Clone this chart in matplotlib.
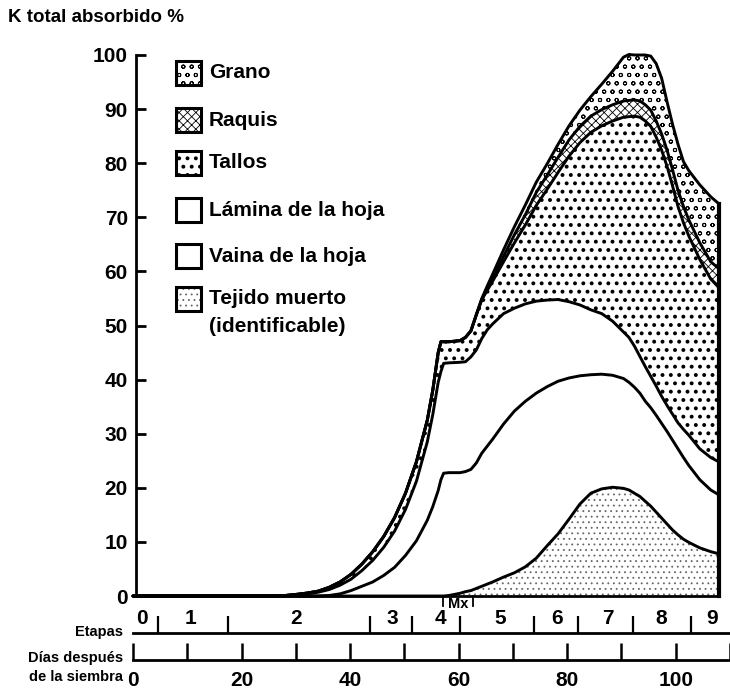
import numpy as np
import matplotlib
matplotlib.use("Agg")
import matplotlib.pyplot as plt
from matplotlib.patches import Rectangle

plt.rcParams['font.family'] = ['Liberation Sans', 'DejaVu Sans']
plt.rcParams['font.weight'] = 'bold'

# ---------------- data (K absorbed, % of total, per plant part) ----------------
dias = [0, 26, 28, 30, 32, 34, 36, 38, 40, 42, 44, 46, 48, 50, 52, 54, 55, 56, 56.5, 57,
        58, 60, 61, 62, 63, 64, 65, 66, 68, 70, 72, 74, 76, 78, 80, 82, 84, 86, 88, 90,
        91, 92, 93, 94, 95, 96, 97, 98, 99, 100, 101, 102, 104, 106, 107.5]

tejido_muerto = [0] * 20 + [0.1, 0.5, 0.8, 1.0, 1.4, 1.8, 2.2, 2.6, 3.5, 4.3, 5.4, 7.0, 9.3, 11.5,
                            14.2, 17.0, 19.0, 19.8, 20.1, 19.9, 19.6, 19.0, 18.4, 17.5, 16.6, 15.5,
                            14.4, 13.3, 12.2, 11.3, 10.5, 9.9, 8.9, 8.2, 7.8]
vaina = [0, 0, 0, 0, 0, 0, 0.1, 0.4, 1.0, 1.8, 2.6, 3.8, 5.3, 7.5, 10.2, 14.0, 16.5, 19.5, 21.5, 22.7,
         22.7, 22.3, 22.2, 22.4, 23.2, 24.6, 25.5, 26.4, 28.3, 29.9, 30.6, 30.5, 29.4, 28.2, 26.1,
         23.7, 21.9, 21.2, 20.7, 20.3, 19.9, 19.6, 19.1, 18.5, 18.2, 17.9, 17.5, 17.1, 16.6, 15.9,
         15.1, 14.2, 12.6, 11.4, 10.9]
lamina = [0, 0, 0.05, 0.2, 0.4, 0.7, 1.1, 1.6, 2.1, 2.9, 4.0, 5.2, 6.7, 8.5, 11.0, 14.5, 17.0, 20.0, 20.0, 20.3,
          20.3, 20.4, 20.3, 20.8, 20.9, 21.2, 21.5, 21.3, 20.4, 19.0, 18.0, 17.0, 16.0, 15.1, 14.1,
          13.1, 12.0, 11.2, 10.0, 8.6, 8.3, 7.6, 6.8, 6.4, 5.8, 5.4, 5.0, 4.8, 4.8, 4.8,
          5.2, 5.6, 5.7, 6.0, 6.1]
tallos = [0, 0, 0.05, 0.1, 0.15, 0.2, 0.4, 0.6, 0.9, 1.2, 1.6, 2.0, 2.5, 3.0, 3.6, 4.0, 4.5, 5.5, 5.5, 4.0,
          3.9, 4.0, 4.5, 4.8, 6.5, 7.2, 7.3, 7.9, 9.6, 12.1, 14.6, 17.7, 20.5, 23.5, 26.9,
          30.0, 32.8, 34.7, 37.0, 39.7, 40.8, 42.5, 44.2, 45.4, 46.2, 46.0, 45.5, 44.2, 42.2, 40.0,
          38.2, 36.8, 35.0, 33.0, 32.2]
raquis = [0] * 25 + [0, 0.3, 0.5, 1.0, 1.5, 1.9, 2.4, 2.6, 2.8, 3.0, 3.0, 3.0, 3.0, 3.0, 3.0,
                     3.0, 3.0, 3.0, 3.0, 3.0, 3.0, 3.0, 3.0, 3.0, 3.0, 3.0, 3.0, 3.1, 3.2, 3.5]
grano = [0] * 25 + [0.2, 0.5, 0.8, 1.2, 1.5, 1.8, 1.9, 2.1, 2.4, 2.6, 3.0, 3.6, 4.7, 6.2, 8.1,
                    8.5, 8.3, 8.5, 9.2, 10.0, 10.6, 10.3, 8.9, 8.4, 8.5, 8.3, 9.1, 10.7, 12.0, 12.0]

capas = ["Tejido muerto", "Vaina de la hoja", "Lámina de la hoja", "Tallos", "Raquis", "Grano"]
capas_valores = [tejido_muerto, vaina, lamina, tallos, raquis, grano]

y_ticks = [0, 10, 20, 30, 40, 50, 60, 70, 80, 90, 100]

etapas = ['0', '1', '2', '3', '4', '5', '6', '7', '8', '9']
etapas_centro = [1.6, 10.5, 30.0, 47.6, 56.4, 67.3, 77.8, 87.2, 96.9, 106.2]
etapas_limites = [4.6, 17.5, 43.5, 51.2, 60.0, 73.6, 81.6, 91.7, 102.4]
mx_limites = [56.9, 62.4]

dias_ticks = [0, 10, 20, 30, 40, 50, 60, 70, 80, 90, 100, 110]
dias_etiquetas = ['0', '', '20', '', '40', '', '60', '', '80', '', '100', '']

# ---------------- styles ----------------
estilos = {
    "Tejido muerto": dict(hatch='...', color='0.4', hlw=0.6),
    "Vaina de la hoja": dict(hatch=None, color='black', hlw=1.0),
    "Lámina de la hoja": dict(hatch=None, color='black', hlw=1.0),
    "Tallos": dict(hatch='..', color='black', hlw=1.6),
    "Raquis": dict(hatch='xxxx', color='black', hlw=0.6),
    "Grano": dict(hatch='oo', color='black', hlw=0.7),
}

W, H = 730, 690
fig = plt.figure(figsize=(W / 100, H / 100), dpi=100)


def fx(px):
    return px / W


def fy(py):
    return 1 - py / H


X0, SX = 133.0, 5.45   # pixel of day 0, pixels per day

# main axes
xl = (0.6, 107.6)
left_px, right_px = X0 + xl[0] * SX, X0 + xl[1] * SX
ax = fig.add_axes([fx(left_px), fy(596), (right_px - left_px) / W, (596 - 55) / H])
ax.set_xlim(*xl)
ax.set_ylim(0, 100)

x = np.array(dias)
stack = np.cumsum(np.vstack(capas_valores), axis=0)
lower = np.zeros_like(x, dtype=float)
for name, top in zip(capas, stack):
    st = estilos[name]
    with plt.rc_context({'hatch.linewidth': st['hlw']}):
        ax.fill_between(x, lower, top, facecolor='white', edgecolor=st['color'],
                        hatch=st['hatch'], linewidth=0, zorder=1, clip_on=False)
    lower = top
for top in stack:
    ax.plot(x, top, color='black', lw=2.1, zorder=3, solid_joinstyle='round',
            solid_capstyle='round', clip_on=False)
ax.plot([x[-1], x[-1]], [0, stack[-1][-1]], color='black', lw=3, zorder=3, clip_on=False)

for s in ['top', 'right']:
    ax.spines[s].set_visible(False)
for s in ['left', 'bottom']:
    ax.spines[s].set_linewidth(2)
ax.set_xticks([])
ax.set_yticks(y_ticks)
ax.set_yticklabels([str(v) for v in y_ticks], fontsize=15, fontweight='bold')
ax.tick_params(axis='y', direction='in', length=7, width=2, pad=6)

# Mx marks below the main axis
for m in mx_limites:
    ax.plot([m, m], [0, -1.9], color='black', lw=1.3, clip_on=False)
ax.text(np.mean(mx_limites), -1.5, 'Mx', fontsize=10.5, fontweight='bold',
        ha='center', va='center')

# Etapas axis
ax_e = fig.add_axes([fx(X0), fy(633), (W - X0) / W, 30 / H])
ax_e.set_xlim(0, (W - X0) / SX)
ax_e.set_ylim(0, 1)
for s in ['top', 'right', 'left']:
    ax_e.spines[s].set_visible(False)
ax_e.spines['bottom'].set_linewidth(2)
ax_e.patch.set_alpha(0)
ax_e.set_yticks([])
ax_e.set_xticks(etapas_limites)
ax_e.set_xticklabels([])
ax_e.tick_params(axis='x', direction='in', length=12, width=1.6)
for lab, pos in zip(etapas, etapas_centro):
    ax_e.text(pos, 0.47, lab, fontsize=15, fontweight='bold', ha='center', va='center')

# Days axis
ax_d = fig.add_axes([fx(X0), fy(660), (W - X0) / W, 20 / H])
ax_d.set_xlim(0, (W - X0) / SX)
for s in ['top', 'right', 'left']:
    ax_d.spines[s].set_visible(False)
ax_d.spines['bottom'].set_linewidth(2)
ax_d.patch.set_alpha(0)
ax_d.set_yticks([])
ax_d.set_xticks(dias_ticks)
ax_d.set_xticklabels(dias_etiquetas, fontsize=15, fontweight='bold')
ax_d.tick_params(axis='x', direction='in', length=12, width=1.8, pad=8)

# left-side labels
fig.text(fx(123), fy(632), 'Etapas', fontsize=10.5, fontweight='bold', ha='right', va='center')
fig.text(fx(123), fy(658), 'Días después', fontsize=10.5, fontweight='bold', ha='right', va='center')
fig.text(fx(123), fy(677), 'de la siembra', fontsize=10.5, fontweight='bold', ha='right', va='center')

# title
fig.text(fx(8), fy(18), 'K total absorbido %', fontsize=13.5, fontweight='bold', ha='left', va='center')

# legend (drawn manually)
leyenda = [("Grano", 73), ("Raquis", 120), ("Tallos", 163), ("Lámina de la hoja", 210),
           ("Vaina de la hoja", 256), ("Tejido muerto", 299)]
for name, ypx in leyenda:
    st = estilos[name]
    with plt.rc_context({'hatch.linewidth': st['hlw']}):
        r = Rectangle((fx(176), fy(ypx + 12)), 25 / W, 24 / H, transform=fig.transFigure,
                      facecolor='white', edgecolor=st['color'], hatch=st['hatch'], lw=0)
        fig.add_artist(r)
    fig.add_artist(Rectangle((fx(176), fy(ypx + 12)), 25 / W, 24 / H, transform=fig.transFigure,
                             facecolor='none', edgecolor='black', lw=2.2))
    fig.text(fx(209), fy(ypx), name, fontsize=15, fontweight='bold', ha='left', va='center')
fig.text(fx(209), fy(326), '(identificable)', fontsize=15, fontweight='bold', ha='left', va='center')

fig.savefig('out.png', dpi=100)
